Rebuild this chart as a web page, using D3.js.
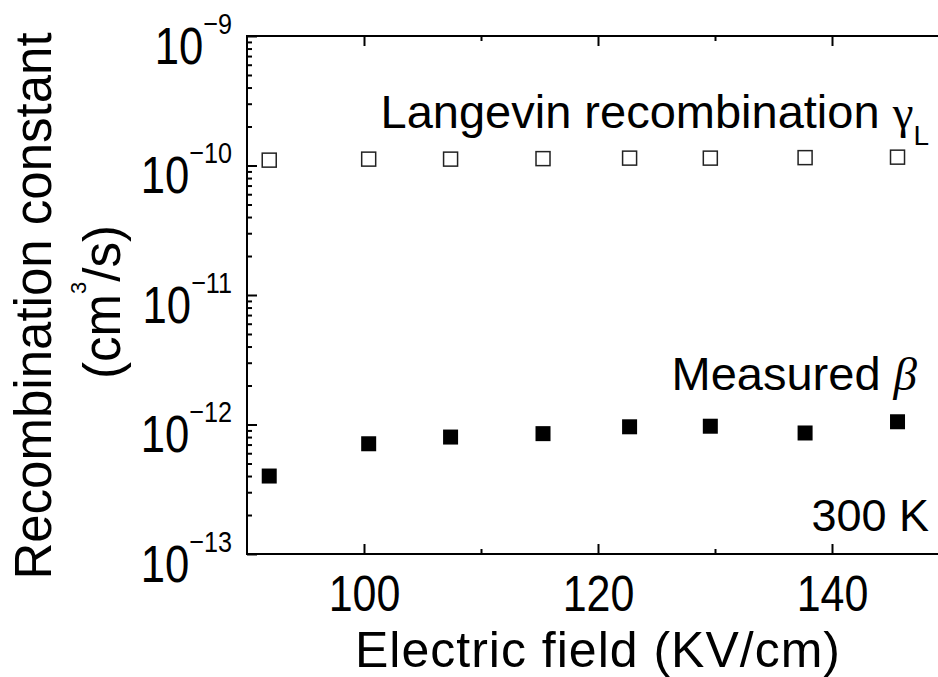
<!DOCTYPE html>
<html>
<head>
<meta charset="utf-8">
<script src="https://d3js.org/d3.v7.min.js"></script>
<style>
  body { margin: 0; background: #fff; }
  svg { font-family: "Liberation Sans", Arial, sans-serif; }
  .axis path, .axis line { stroke: #000; stroke-width: 2; }
</style>
</head>
<body>
<svg width="938" height="677"></svg>
<script>
// field values (KV/cm)
var field = [91.9, 100.4, 107.4, 115.3, 122.7, 129.6, 137.7, 145.6];
// Langevin recombination gamma_L (cm^3/s)
var langevin = [1.10e-10, 1.12e-10, 1.12e-10, 1.13e-10, 1.14e-10, 1.14e-10, 1.15e-10, 1.16e-10];
// measured beta (cm^3/s)
var measured = [4.0e-13, 7.1e-13, 8.0e-13, 8.5e-13, 9.6e-13, 9.7e-13, 8.6e-13, 1.05e-12];

var xMajor = [100, 120, 140];
var xMinor = [110, 130];
var yDecades = [-13, -12, -11, -10, -9];

var svg = d3.select('svg');

var x = d3.scaleLinear().domain([90, 150]).range([247, 949]);
var y = d3.scaleLog().domain([1e-13, 1e-9]).range([554, 36]);

var yMajor = yDecades.map(function(e) { return Math.pow(10, e); });
var yMinor = [];
yDecades.slice(0, -1).forEach(function(e) {
  for (var k = 2; k <= 9; k++) yMinor.push(k * Math.pow(10, e));
});

// frame
svg.append('rect')
  .attr('x', x(90)).attr('y', y(1e-9))
  .attr('width', x(150) - x(90)).attr('height', y(1e-13) - y(1e-9))
  .attr('fill', 'none').attr('stroke', '#000').attr('stroke-width', 2);

// bottom axis (digits are tall and narrow in the original, so squeeze them)
var gx = svg.append('g').attr('class', 'axis')
  .attr('transform', 'translate(0,' + y(1e-13) + ')')
  .call(d3.axisBottom(x).tickValues(xMajor).tickSize(-10).tickFormat(d3.format('d')));
gx.select('.domain').remove();
gx.attr('font-family', null).attr('font-size', null);
gx.selectAll('text')
  .attr('y', 57).attr('dy', null)
  .attr('font-size', 50).attr('fill', '#000')
  .attr('transform', 'scale(0.86,1)');

var gxm = svg.append('g').attr('class', 'axis')
  .attr('transform', 'translate(0,' + y(1e-13) + ')')
  .call(d3.axisBottom(x).tickValues(xMinor).tickSize(-5).tickFormat(''));
gxm.select('.domain').remove();

// top axis
var gt = svg.append('g').attr('class', 'axis')
  .attr('transform', 'translate(0,' + y(1e-9) + ')')
  .call(d3.axisTop(x).tickValues(xMajor).tickSize(-10).tickFormat(''));
gt.select('.domain').remove();
var gtm = svg.append('g').attr('class', 'axis')
  .attr('transform', 'translate(0,' + y(1e-9) + ')')
  .call(d3.axisTop(x).tickValues(xMinor).tickSize(-5).tickFormat(''));
gtm.select('.domain').remove();

// left axis
var gy = svg.append('g').attr('class', 'axis')
  .attr('transform', 'translate(' + x(90) + ',0)')
  .call(d3.axisLeft(y).tickValues(yMajor).tickSize(-10).tickFormat(''));
gy.select('.domain').remove();
var gym = svg.append('g').attr('class', 'axis')
  .attr('transform', 'translate(' + x(90) + ',0)')
  .call(d3.axisLeft(y).tickValues(yMinor).tickSize(-5).tickFormat(''));
gym.select('.domain').remove();

gy.attr('font-family', null).attr('font-size', null);
gy.selectAll('.tick').each(function(d) {
  var t = d3.select(this).append('text')
    .attr('transform', 'translate(-15,27) scale(0.84,1)')
    .attr('text-anchor', 'end').attr('fill', '#000');
  t.append('tspan').attr('font-size', 52).text('10');
  t.append('tspan').attr('font-size', 30).attr('dy', -30)
    .text('\u2212' + Math.abs(Math.round(Math.log10(d))));
});

// markers
svg.append('g').selectAll('rect')
  .data(field.map(function(f, i) { return [f, langevin[i]]; }))
  .enter().append('rect')
  .attr('x', function(d) { return x(d[0]) - 7; })
  .attr('y', function(d) { return y(d[1]) - 7; })
  .attr('width', 14).attr('height', 14)
  .attr('fill', '#fff').attr('stroke', '#222').attr('stroke-width', 1.5);

svg.append('g').selectAll('rect')
  .data(field.map(function(f, i) { return [f, measured[i]]; }))
  .enter().append('rect')
  .attr('x', function(d) { return x(d[0]) - 7.5; })
  .attr('y', function(d) { return y(d[1]) - 7.5; })
  .attr('width', 15).attr('height', 15)
  .attr('fill', '#000');

// annotations
var t1 = svg.append('text').attr('x', 929).attr('y', 128)
  .attr('text-anchor', 'end').attr('font-size', 47);
t1.append('tspan').text('Langevin recombination ');
t1.append('tspan').attr('font-family', '"Liberation Serif", serif').text('\u03b3');
t1.append('tspan').attr('font-size', 28).attr('dy', 17).text('L');

var t2 = svg.append('text').attr('x', 917).attr('y', 390)
  .attr('text-anchor', 'end').attr('font-size', 47);
t2.append('tspan').text('Measured ');
t2.append('tspan').attr('font-family', '"Liberation Serif", serif')
  .attr('font-style', 'italic').text('\u03b2');

svg.append('text').attr('x', 929).attr('y', 531)
  .attr('text-anchor', 'end').attr('font-size', 45).text('300 K');

// axis labels
svg.append('text').attr('x', 598).attr('y', 667)
  .attr('text-anchor', 'middle').attr('font-size', 50)
  .attr('letter-spacing', 1)
  .text('Electric field (KV/cm)');

svg.append('text')
  .attr('transform', 'translate(51,306) rotate(-90)')
  .attr('text-anchor', 'middle').attr('font-size', 51)
  .text('Recombination constant');

var yl2 = svg.append('text')
  .attr('transform', 'translate(120,302) rotate(-90)')
  .attr('text-anchor', 'middle').attr('font-size', 51);
yl2.append('tspan').text('(cm');
yl2.append('tspan').attr('font-size', 22).attr('dy', -34).text('3');
yl2.append('tspan').attr('dy', 34).text('/s)');
</script>
</body>
</html>
